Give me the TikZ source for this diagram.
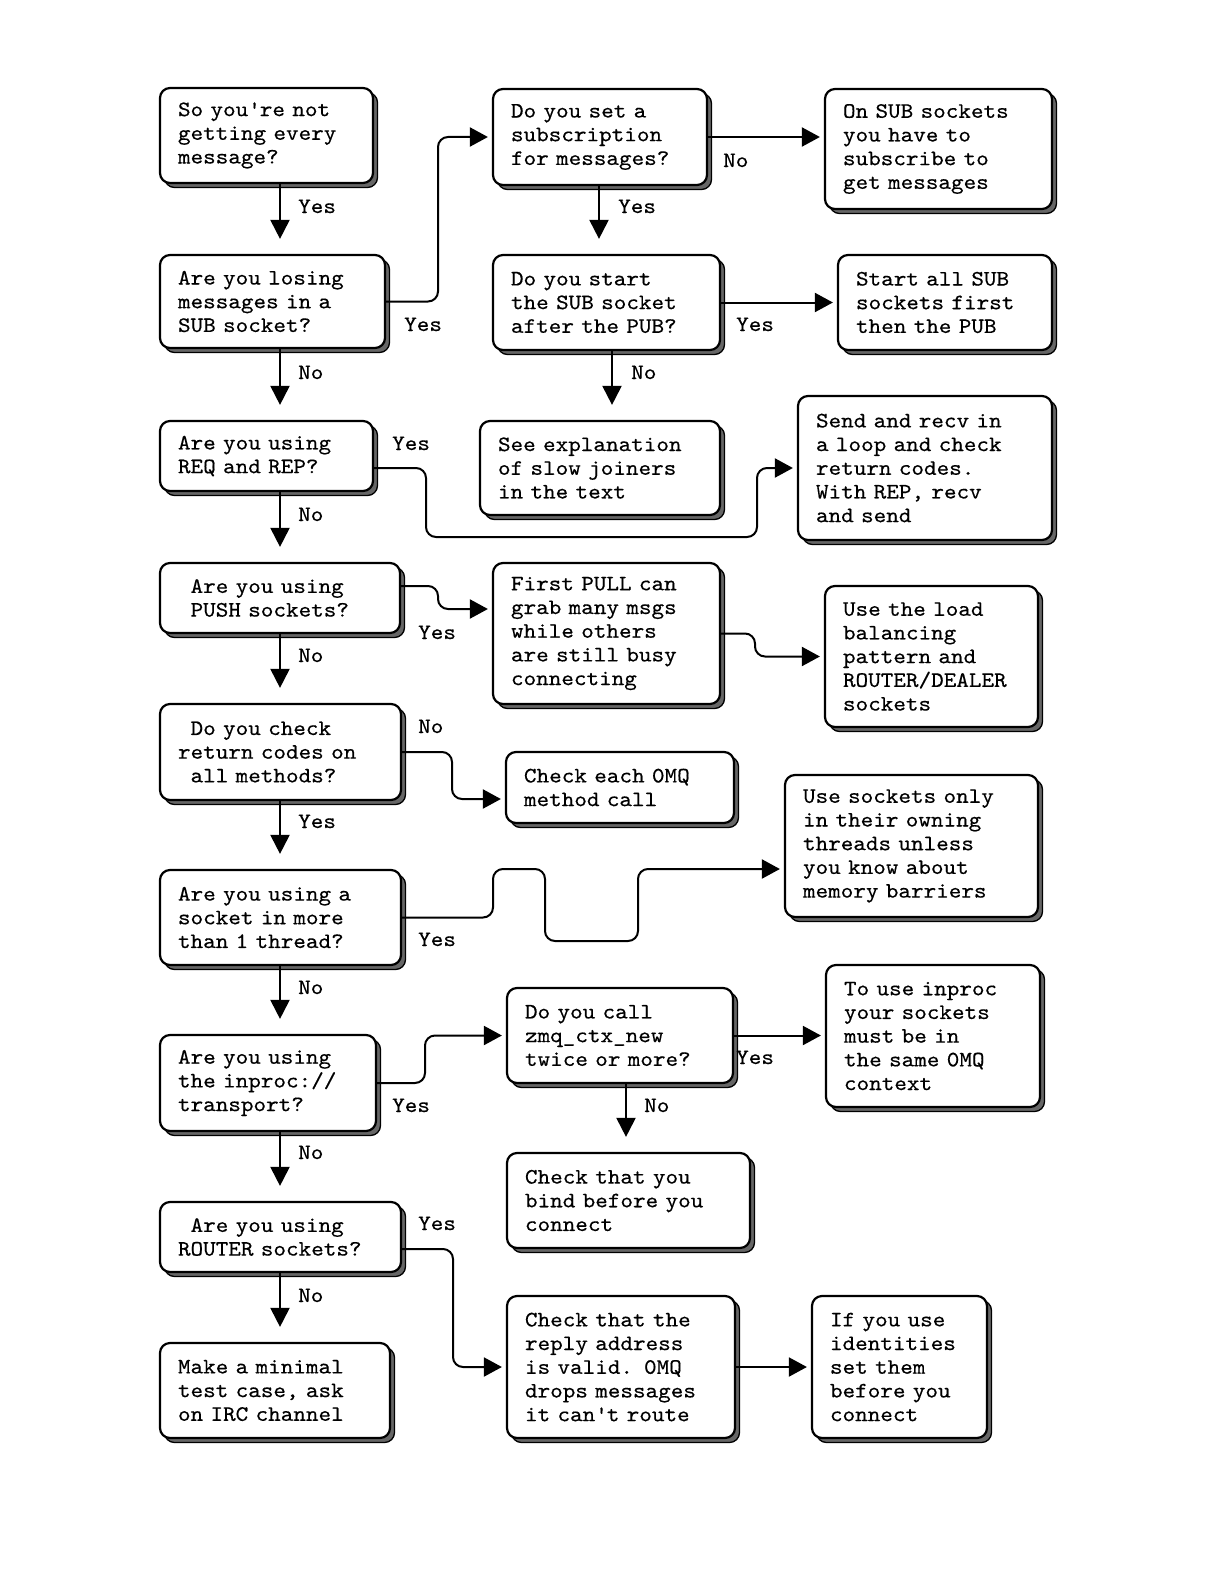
\documentclass[tikz,border=0pt]{standalone}
\usepackage{fontspec}
\newfontfamily\boxtt{lmmono10-regular.otf}[FakeStretch=1.09,FakeBold=0.4]
\usetikzlibrary{arrows.meta,shadows}
\tikzset{
  boxfont/.style={font=\fontsize{22}{23.7}\selectfont\boxtt},
  box/.style={boxfont, draw=black, line width=2.2pt, rounded corners=10pt, fill=white,
    align=left, inner xsep=18pt, inner ysep=0pt,
    general shadow={shadow xshift=4.5pt, shadow yshift=-4.5pt, fill=black!60, draw=black, line width=1.3pt}},
  conn/.style={line width=2pt, -{Triangle[length=18pt,width=19pt]}, shorten >=4pt},
  routed/.style={conn, rounded corners=10pt},
  downarr/.style={line width=2pt, -{Triangle[length=19pt,width=19pt]}, shorten >=15pt},
  lbl/.style={boxfont, anchor=base west, inner sep=0pt},
}
\newcommand\flowbox[6]{%
  \pgfmathsetmacro\fbw{#4-#2-36}%
  \pgfmathsetmacro\fbh{#5-#3}%
  \pgfmathsetmacro\fbx{(#2+#4)/2}%
  \pgfmathsetmacro\fby{(#3+#5)/2}%
  \node[box, text width=\fbw pt, minimum height=\fbh pt] (#1) at (\fbx,\fby) {#6};}
\newcommand\indsp{\hphantom{x}}
\begin{document}
\begin{tikzpicture}[x=1pt,y=-1pt]
\useasboundingbox (0,0) rectangle (1224,1584);
\fill[white] (0,0) rectangle (1224,1584);
\coordinate (c1) at (280,0);
\coordinate (cA) at (599,0);
\coordinate (cB) at (612,0);
\coordinate (cC) at (626,0);
% column 1
\flowbox{b1}{160}{88}{373}{183}{So you\textquotesingle re not\\getting every\\message?}
\flowbox{b2}{160}{255}{385}{348}{Are you losing\\messages in a\\SUB socket?}
\flowbox{b3}{160}{421}{373}{491}{Are you using\\REQ and REP?}
\flowbox{b4}{160}{563}{400}{633}{\indsp Are you using\\\indsp PUSH sockets?}
\flowbox{b5}{160}{704}{401}{800}{\indsp Do you check\\return codes on\\\indsp all methods?}
\flowbox{b6}{160}{870}{401}{965}{Are you using a\\socket in more\\than 1 thread?}
\flowbox{b7}{160}{1035}{376}{1131}{Are you using\\the inproc://\\transport?}
\flowbox{b8}{160}{1202}{401}{1272}{\indsp Are you using\\ROUTER sockets?}
\flowbox{b9}{160}{1343}{390}{1438}{Make a minimal\\test case, ask\\on IRC channel}
% column 2
\flowbox{b10}{493}{89}{707}{185}{Do you set a\\subscription\\for messages?}
\flowbox{b11}{493}{255}{720}{350}{Do you start\\the SUB socket\\after the PUB?}
\flowbox{b12}{480}{421}{720}{515}{See explanation\\of slow joiners\\in the text}
\flowbox{b13}{493}{563}{720}{704}{First PULL can\\grab many msgs\\while others\\are still busy\\connecting}
\flowbox{b14}{506}{752}{734}{823}{Check each 0MQ\\method call}
\flowbox{b15}{507}{988}{733}{1083}{Do you call\\zmq\_ctx\_new\\twice or more?}
\flowbox{b16}{507}{1153}{750}{1248}{Check that you\\bind before you\\connect}
\flowbox{b17}{507}{1296}{735}{1438}{Check that the\\reply address\\is valid. 0MQ\\drops messages\\it can\textquotesingle t route}
% column 3
\flowbox{b18}{825}{89}{1052}{209}{On SUB sockets\\you have to\\subscribe to\\get messages}
\flowbox{b19}{838}{255}{1052}{350}{Start all SUB\\sockets first\\then the PUB}
\flowbox{b20}{798}{396}{1052}{540}{Send and recv in\\a loop and check\\return codes.\\With REP, recv\\and send}
\flowbox{b21}{825}{586}{1038}{727}{Use the load\\balancing\\pattern and\\ROUTER/DEALER\\sockets}
\flowbox{b22}{785}{775}{1038}{917}{Use sockets only\\in their owning\\threads unless\\you know about\\memory barriers}
\flowbox{b23}{826}{965}{1040}{1107}{To use inproc\\your sockets\\must be in\\the same 0MQ\\context}
\flowbox{b24}{812}{1296}{987}{1438}{If you use\\identities\\set them\\before you\\connect}
% vertical connectors
\draw[downarr] (b1.south -| c1) -- (b2.north -| c1);
\draw[downarr] (b2.south -| c1) -- (b3.north -| c1);
\draw[downarr] (b3.south -| c1) -- (b4.north -| c1);
\draw[downarr] (b4.south -| c1) -- (b5.north -| c1);
\draw[downarr] (b5.south -| c1) -- (b6.north -| c1);
\draw[downarr] (b6.south -| c1) -- (b7.north -| c1);
\draw[downarr] (b7.south -| c1) -- (b8.north -| c1);
\draw[downarr] (b8.south -| c1) -- (b9.north -| c1);
\draw[downarr] (b10.south -| cA) -- (b11.north -| cA);
\draw[downarr] (b11.south -| cB) -- (b12.north -| cB);
\draw[downarr] (b15.south -| cC) -- (b16.north -| cC);
% horizontal connectors
\draw[conn] (b10.east) -- (b18.west |- b10.east);
\draw[conn] (b11.east) -- (b19.west |- b11.east);
\draw[conn] (b15.east) -- (b23.west |- b15.east);
\draw[conn] (b17.east) -- (b24.west |- b17.east);
\draw[routed] (b2.east) -| (438,137) -- (b10.west);
\draw[routed] (b3.east |- 0,468) -| (426,537) -| (757,468) -- (b20.west);
\draw[routed] (b4.east |- 0,586) -| (438,609) -- (b13.west |- 0,609);
\draw[routed] (b13.east) -| (755,656.5) -- (b21.west);
\draw[routed] (b5.east) -| (452,799) -- (b14.west |- 0,799);
\draw[routed] (b6.east) -| (493,869) -| (545,941) -| (638,869) -- (b22.west |- 0,869);
\draw[routed] (b7.east) -| (425,1035.5) -- (b15.west);
\draw[routed] (b8.east |- 0,1249) -| (453,1367) -- (b17.west);
% labels
\node[lbl] (l1) at (298,213) {Yes};
\node[lbl] (l2) at (404,331) {Yes};
\node[lbl] (l3) at (298,379) {No};
\node[lbl] (l4) at (392,450) {Yes};
\node[lbl] (l5) at (298,521) {No};
\node[lbl] (l6) at (418,639) {Yes};
\node[lbl] (l7) at (298,662) {No};
\node[lbl] (l8) at (418,733) {No};
\node[lbl] (l9) at (298,828) {Yes};
\node[lbl] (l10) at (418,946) {Yes};
\node[lbl] (l11) at (298,994) {No};
\node[lbl] (l12) at (392,1112) {Yes};
\node[lbl] (l13) at (298,1159) {No};
\node[lbl] (l14) at (418,1230) {Yes};
\node[lbl] (l15) at (298,1302) {No};
\node[lbl] (l16) at (618,213) {Yes};
\node[lbl] (l17) at (723,167) {No};
\node[lbl] (l18) at (631,379) {No};
\node[lbl] (l19) at (736,331) {Yes};
\node[lbl] (l20) at (736,1064) {Yes};
\node[lbl] (l21) at (644,1112) {No};
\end{tikzpicture}
\end{document}
